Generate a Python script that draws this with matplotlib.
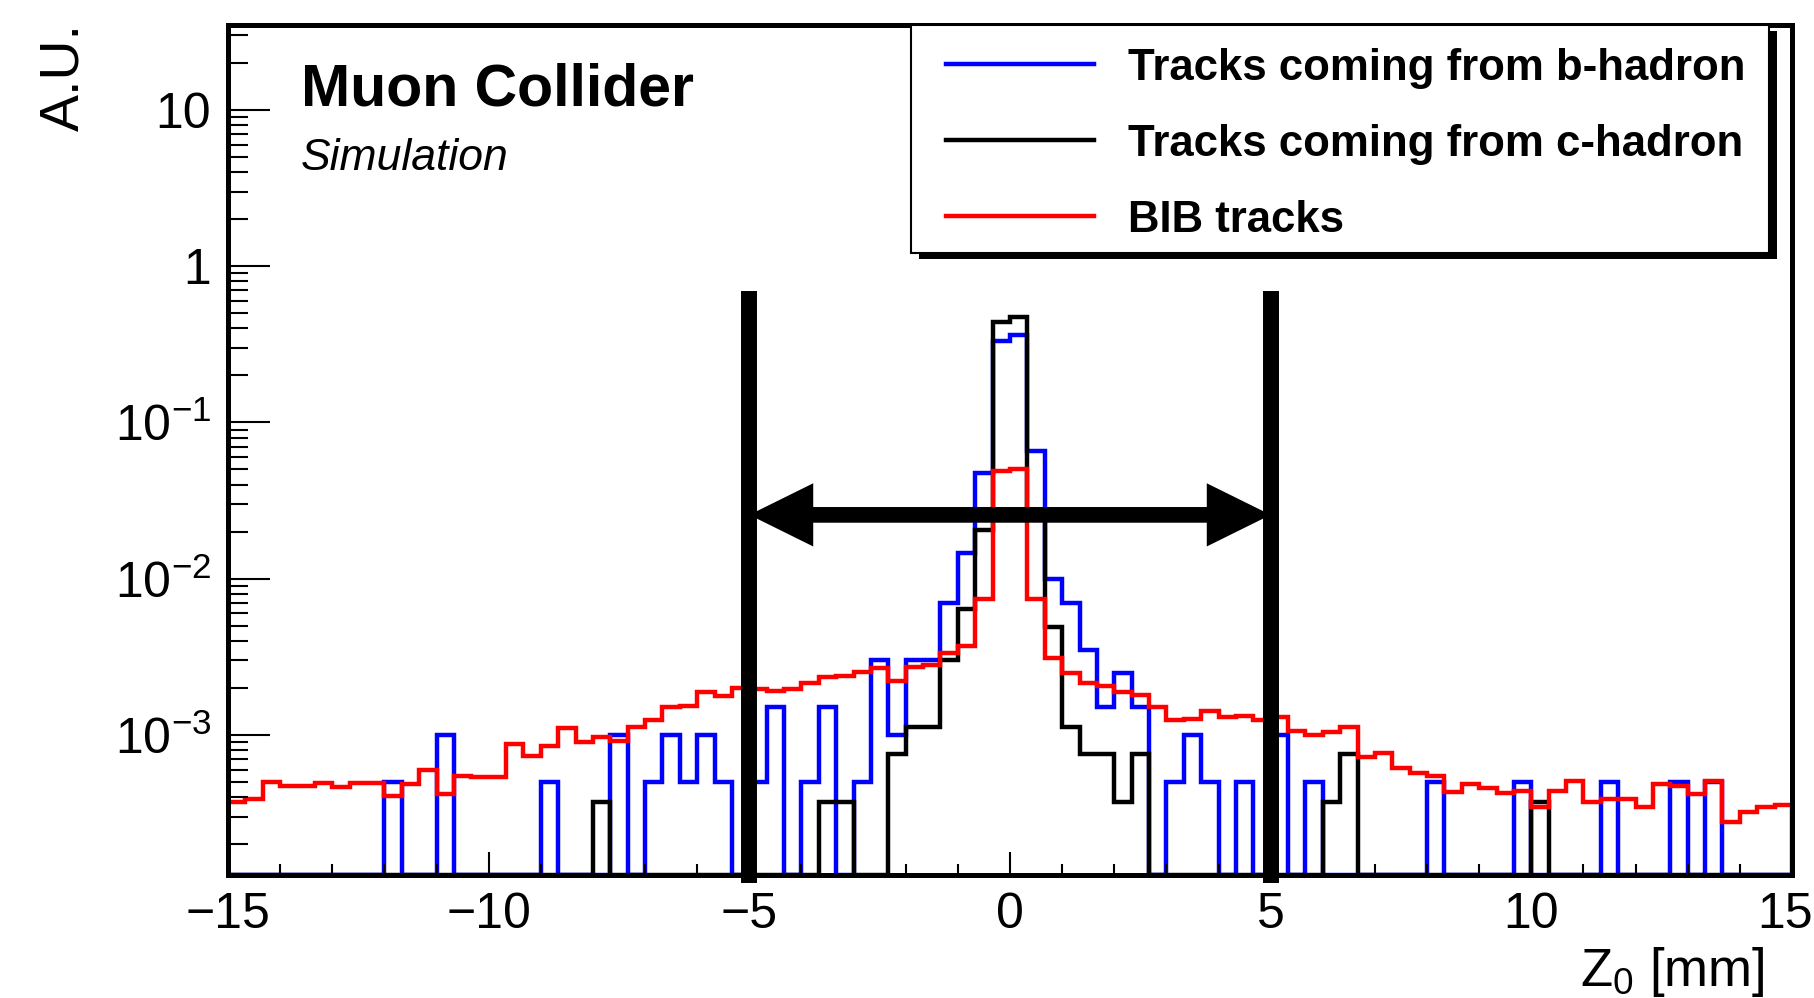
import numpy as np
import matplotlib.pyplot as plt
import matplotlib.transforms as mtransforms
from matplotlib.patches import Rectangle
from matplotlib.lines import Line2D
from matplotlib.ticker import FixedLocator, FixedFormatter, MultipleLocator, LogLocator, NullFormatter

plt.rcParams['font.family'] = ['Liberation Sans', 'DejaVu Sans']
plt.rcParams['mathtext.fontset'] = 'custom'
plt.rcParams['mathtext.rm'] = 'Liberation Sans'
plt.rcParams['mathtext.it'] = 'Liberation Sans:italic'
plt.rcParams['mathtext.bf'] = 'Liberation Sans:bold'

# z0 binning: 90 bins of 1/3 mm
edges = np.linspace(-15, 15, 91)

b_hadron = [0, 0, 0, 0, 0, 0, 0, 0, 0, 5e-4,
            0, 0, 1e-3, 0, 0, 0, 0, 0, 5e-4, 0,
            0, 0, 1e-3, 0, 5e-4, 1e-3, 5e-4, 1e-3, 5e-4, 0,
            5e-4, 1.5e-3, 0, 5e-4, 1.5e-3, 0, 5e-4, 3e-3, 1e-3, 3e-3,
            3e-3, 7e-3, 0.0145, 0.0475, 0.33, 0.36, 0.066, 0.010, 7e-3, 3.5e-3,
            1.5e-3, 2.5e-3, 1.5e-3, 0, 5e-4, 1e-3, 5e-4, 0, 5e-4, 0,
            1e-3, 0, 5e-4, 0, 0, 0, 0, 0, 0, 5e-4,
            0, 0, 0, 0, 5e-4, 0, 0, 0, 0, 5e-4,
            0, 0, 0, 5e-4, 0, 5e-4, 0, 0, 0, 0]

c_hadron = [0, 0, 0, 0, 0, 0, 0, 0, 0, 0,
            0, 0, 0, 0, 0, 0, 0, 0, 0, 0,
            0, 3.75e-4, 0, 0, 0, 0, 0, 0, 0, 0,
            0, 0, 0, 0, 3.75e-4, 3.75e-4, 0, 0, 7.5e-4, 1.125e-3,
            1.125e-3, 3.0e-3, 6.4e-3, 0.0205, 0.44, 0.474, 0.025, 4.9e-3, 1.125e-3, 7.5e-4,
            7.5e-4, 3.75e-4, 7.5e-4, 0, 0, 0, 0, 0, 0, 0,
            0, 0, 0, 3.75e-4, 7.5e-4, 0, 0, 0, 0, 0,
            0, 0, 0, 0, 0, 3.75e-4, 0, 0, 0, 0,
            0, 0, 0, 0, 0, 0, 0, 0, 0, 0]

bib = [3.7e-4, 3.9e-4, 5.0e-4, 4.7e-4, 4.7e-4, 4.9e-4, 4.65e-4, 4.95e-4, 4.9e-4, 4.05e-4,
       4.85e-4, 6.0e-4, 4.2e-4, 5.5e-4, 5.35e-4, 5.35e-4, 8.75e-4, 7.3e-4, 8.5e-4, 1.11e-3,
       9.0e-4, 9.75e-4, 9.2e-4, 1.13e-3, 1.25e-3, 1.5e-3, 1.53e-3, 1.87e-3, 1.78e-3, 2.0e-3,
       1.96e-3, 1.92e-3, 1.96e-3, 2.16e-3, 2.34e-3, 2.38e-3, 2.54e-3, 2.67e-3, 2.21e-3, 2.74e-3,
       2.8e-3, 3.33e-3, 3.7e-3, 7.4e-3, 0.049, 0.050, 7.4e-3, 3.1e-3, 2.48e-3, 2.14e-3,
       2.07e-3, 1.89e-3, 1.8e-3, 1.52e-3, 1.25e-3, 1.26e-3, 1.43e-3, 1.31e-3, 1.32e-3, 1.25e-3,
       1.3e-3, 1.06e-3, 1.0e-3, 1.04e-3, 1.13e-3, 7.24e-4, 7.7e-4, 6.1e-4, 5.73e-4, 5.45e-4,
       4.33e-4, 4.86e-4, 4.55e-4, 4.25e-4, 4.4e-4, 3.48e-4, 4.4e-4, 5.06e-4, 3.73e-4, 3.92e-4,
       3.92e-4, 3.48e-4, 4.86e-4, 4.7e-4, 4.18e-4, 5.1e-4, 2.78e-4, 3.2e-4, 3.46e-4, 3.57e-4]

labels = ['Tracks coming from b-hadron', 'Tracks coming from c-hadron', 'BIB tracks']
colors = ['#0000ff', '#000000', '#ff0000']

ymin, ymax = 1.27e-4, 34.9
cut = 5.0          # |z0| window
cut_top = 0.62     # height of the cut lines
arrow_y = 0.0256

W, H = 1815, 998
def fx(px):
    return px / W
def fy(py):
    return 1 - py / H

fig = plt.figure(figsize=(W / 100, H / 100), dpi=100)
ax = fig.add_axes([fx(228), fy(875), fx(1792) - fx(228), fy(25) - fy(875)])

for vals, col in zip([b_hadron, c_hadron, bib], colors):
    v = np.asarray(vals, dtype=float)
    v = np.where(v > 0, v, ymin)
    ax.stairs(v, edges, baseline=ymin, color=col, lw=3.2)

ax.set_yscale('log')
ax.set_xlim(-15, 15)
ax.set_ylim(ymin, ymax)

# cut lines and window arrow
ax.vlines([-cut, cut], ymin, cut_top, colors='black', lw=11.5,
          capstyle='projecting', clip_on=False, zorder=5)
for side in (-cut, cut):
    ax.annotate('', xy=(side, arrow_y), xytext=(0, arrow_y),
                arrowprops=dict(arrowstyle='simple,head_length=46,head_width=45.5,tail_width=11.3',
                                mutation_scale=1, lw=0, fc='black', ec='none',
                                shrinkA=0, shrinkB=0), zorder=6)

for s in ax.spines.values():
    s.set_linewidth(3.6)

yt = [1e-3, 1e-2, 1e-1, 1, 10]
ax.yaxis.set_major_locator(FixedLocator(yt))
ax.yaxis.set_major_formatter(FixedFormatter([r'$10^{-3}$', r'$10^{-2}$', r'$10^{-1}$', '1', '10']))
ax.yaxis.set_minor_locator(LogLocator(base=10, subs=np.arange(2, 10), numticks=20))
ax.yaxis.set_minor_formatter(NullFormatter())

xt = [-15, -10, -5, 0, 5, 10, 15]
ax.xaxis.set_major_locator(FixedLocator(xt))
ax.xaxis.set_major_formatter(FixedFormatter([str(t).replace('-', '\u2212') for t in xt]))
ax.xaxis.set_minor_locator(MultipleLocator(1))

ax.tick_params(axis='both', which='both', direction='in', top=False, right=False, width=1.5)
ax.tick_params(axis='y', which='major', length=30, labelsize=36, pad=12)
ax.tick_params(axis='y', which='minor', length=14.4)
ax.tick_params(axis='x', which='major', length=16.5, labelsize=36, pad=12)
ax.tick_params(axis='x', which='minor', length=8)

# keep the last x label inside the canvas
last = ax.get_xticklabels()[-1]
last.set_transform(last.get_transform() +
                   mtransforms.ScaledTranslation(-7 / 100, 0, fig.dpi_scale_trans))

fig.text(fx(64), fy(23), 'A.U.', rotation=90, ha='center', va='top', fontsize=40)
fig.text(fx(1765), fy(986), r'Z$_{0}$ [mm]', ha='right', va='baseline', fontsize=38)

fig.text(fx(301), fy(106), 'Muon Collider', fontsize=42.5, fontweight='bold')
fig.text(fx(301), fy(170), 'Simulation', fontsize=32, fontstyle='italic')

# legend box with shadow
fig.add_artist(Rectangle((fx(919), fy(259)), fx(1777) - fx(919), fy(31) - fy(259),
                         transform=fig.transFigure, facecolor='black', edgecolor='none', zorder=10))
fig.add_artist(Rectangle((fx(911), fy(253)), fx(1769) - fx(911), fy(25) - fy(253),
                         transform=fig.transFigure, facecolor='white', edgecolor='black',
                         lw=1.5, zorder=11))
for k, (lab, col) in enumerate(zip(labels, colors)):
    yl = 64 + 76 * k
    fig.add_artist(Line2D([fx(946), fx(1094)], [fy(yl), fy(yl)], transform=fig.transFigure,
                          color=col, lw=3.2, zorder=12))
    fig.text(fx(1128), fy(yl + 16), lab, fontsize=31.5, fontweight='bold', va='baseline', zorder=12)

fig.savefig('out.png', dpi=100)
